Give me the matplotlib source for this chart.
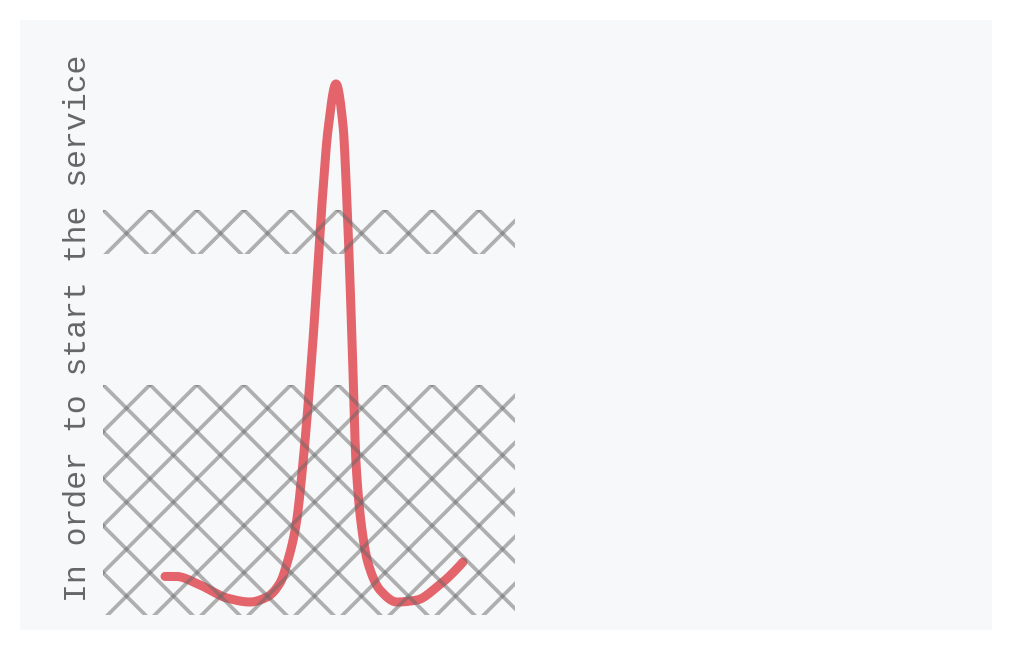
import numpy as np
import matplotlib
matplotlib.use("Agg")
import matplotlib.pyplot as plt
from matplotlib.patches import Rectangle
from matplotlib.lines import Line2D
from matplotlib.transforms import IdentityTransform

# ---- data ----
x_vals = [1.505, 1.772, 2.354, 3.010, 3.568, 3.981, 4.296, 4.490, 4.684, 4.854, 5.097,
          5.316, 5.461, 5.655, 5.825, 5.922, 6.044, 6.141, 6.286, 6.432, 6.723, 7.136,
          7.621, 8.107, 8.738]
y_vals = [6.95, 6.95, 5.41, 3.06, 2.34, 3.24, 5.77, 9.91, 16.22, 27.39, 49.55,
          74.23, 87.39, 95.68, 88.29, 74.23, 49.55, 27.39, 15.32, 9.37, 4.50, 2.34,
          2.70, 5.05, 9.55]
bands = [(65.0, 73.0), (0.0, 41.5)]
band_x = (0.0, 10.0)
y_label = "In order to start the service"


def pchip(x, y, xs):
    x = np.asarray(x, float); y = np.asarray(y, float)
    h = np.diff(x); d = np.diff(y) / h
    n = len(x); m = np.zeros(n)
    for k in range(1, n - 1):
        if d[k - 1] * d[k] <= 0:
            m[k] = 0.0
        else:
            w1 = 2 * h[k] + h[k - 1]; w2 = h[k] + 2 * h[k - 1]
            m[k] = (w1 + w2) / (w1 / d[k - 1] + w2 / d[k])
    def end(h0, h1, d0, d1):
        v = ((2 * h0 + h1) * d0 - h0 * d1) / (h0 + h1)
        if np.sign(v) != np.sign(d0):
            v = 0.0
        elif np.sign(d0) != np.sign(d1) and abs(v) > abs(3 * d0):
            v = 3 * d0
        return v
    m[0] = end(h[0], h[1], d[0], d[1])
    m[-1] = end(h[-1], h[-2], d[-1], d[-2])
    idx = np.clip(np.searchsorted(x, xs) - 1, 0, n - 2)
    t = (xs - x[idx]) / h[idx]
    h00 = 2 * t**3 - 3 * t**2 + 1; h10 = t**3 - 2 * t**2 + t
    h01 = -2 * t**3 + 3 * t**2; h11 = t**3 - t**2
    return h00 * y[idx] + h10 * h[idx] * m[idx] + h01 * y[idx + 1] + h11 * h[idx] * m[idx + 1]


W, H = 1012, 650
fig = plt.figure(figsize=(W / 100, H / 100), dpi=100)
fig.patch.set_facecolor("white")
fig.patches.append(Rectangle((20 / W, 20 / H), 972 / W, 610 / H, transform=fig.transFigure,
                             facecolor="#f7f8fa", edgecolor="none", zorder=-10))

ax = fig.add_axes([103 / W, 1 - 615 / H, 412 / W, 555 / H])
ax.set_zorder(1)
ax.set_facecolor("none")
ax.set_xlim(*band_x)
ax.set_ylim(0, 100)
ax.axis("off")

xs = np.linspace(x_vals[0], x_vals[-1], 2000)
ys = pchip(x_vals, y_vals, xs)
ax.plot(xs, ys, color="#e4646b", lw=6.5, solid_capstyle="round", zorder=2, clip_on=False)

# hatched bands
spacing = 47.0
hatch_kw = dict(transform=IdentityTransform(), color="#686868", alpha=0.5, lw=2.7,
                solid_capstyle="round", zorder=3)
for (y0, y1) in bands:
    (dx0, dy0), (dx1, dy1) = ax.transData.transform([(band_x[0], y0), (band_x[1], y1)])
    clip = Rectangle((band_x[0], y0), band_x[1] - band_x[0], y1 - y0, transform=ax.transData,
                     facecolor="none", edgecolor="none")
    ax.add_patch(clip)
    span = (dx1 - dx0) + (dy1 - dy0)
    nk = int(span / spacing) + 3
    for k in range(-nk, nk + 1):
        c = dy1 + dx0 + k * spacing
        ln = Line2D([dx0 - 50, dx1 + 50], [c - (dx0 - 50), c - (dx1 + 50)], **hatch_kw)
        ax.add_line(ln)
        ln.set_clip_path(clip)
        c2 = dy1 - dx0 + k * spacing
        ln2 = Line2D([dx0 - 50, dx1 + 50], [c2 + (dx0 - 50), c2 + (dx1 + 50)], **hatch_kw)
        ax.add_line(ln2)
        ln2.set_clip_path(clip)

fig.text(78 / W, 1 - 328 / H, y_label, rotation=90, family="Liberation Mono", fontsize=22.7,
         color="#666666", ha="center", va="center")

fig.savefig("out.png", dpi=100, facecolor="white")
